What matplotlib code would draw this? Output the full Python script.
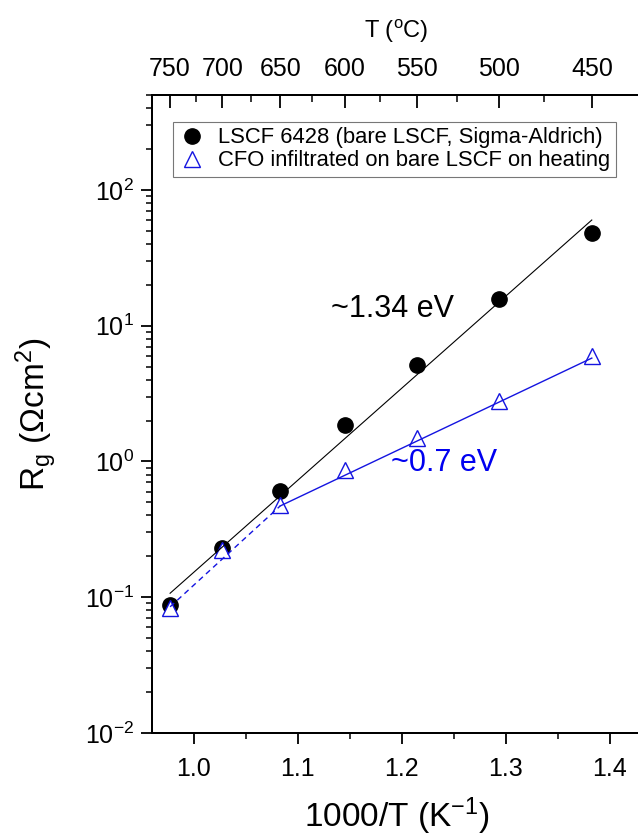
import matplotlib
matplotlib.use("Agg")
import matplotlib.pyplot as plt
import numpy as np
from matplotlib.ticker import MultipleLocator, LogLocator, LogFormatterMathtext, FixedLocator

plt.rcParams.update({
    "font.family": ["Liberation Sans", "DejaVu Sans"],
    "mathtext.fontset": "custom",
    "mathtext.rm": "Liberation Sans",
    "mathtext.it": "Liberation Sans:italic",
    "mathtext.bf": "Liberation Sans:bold",
    "axes.linewidth": 1.4,
})

# --- data ---
inv_T = [0.9774, 1.0276, 1.0832, 1.1453, 1.2148, 1.2934, 1.3827]      # 1000/T (K^-1)
rg_bare = [0.087, 0.231, 0.61, 1.85, 5.1, 15.7, 48.4]                    # LSCF 6428
rg_cfo = [0.083, 0.224, 0.48, 0.87, 1.50, 2.78, 5.97]                    # CFO infiltrated

fit_bare_x = [0.9774, 1.3827]
fit_bare_y = [0.107, 60.0]
fit_cfo_x = [1.0832, 1.3827]
fit_cfo_y = [0.47, 5.77]
dash_cfo_x = [0.9774, 1.0832]
dash_cfo_y = [0.085, 0.47]

top_T_major = [750, 700, 650, 600, 550, 500, 450]
top_T_minor = [725, 675, 625, 575, 525, 475]

label_bare = "LSCF 6428 (bare LSCF, Sigma-Aldrich)"
label_cfo = "CFO infiltrated on bare LSCF on heating"
blue = "#1414E0"

fig = plt.figure(figsize=(6.38, 8.36), dpi=100)
ax = fig.add_axes([152 / 638, 103 / 836, 489 / 638, 638 / 836])

# fit lines
ax.plot(fit_bare_x, fit_bare_y, color="black", lw=0.8, zorder=4)
ax.plot(fit_cfo_x, fit_cfo_y, color=blue, lw=1.0, zorder=4)
ax.plot(dash_cfo_x, dash_cfo_y, color=blue, lw=1.0, ls=(0, (4, 3)), zorder=4)

# points
h1, = ax.plot(inv_T, rg_bare, "o", color="black", ms=11, ls="none", zorder=2, label=label_bare)
h2, = ax.plot(inv_T, rg_cfo, "^", mfc="white", mec=blue, mew=1.0, ms=12, ls="none", zorder=3, label=label_cfo)

ax.set_yscale("log")
ax.set_ylim(0.01, 500)
ax.set_xlim(0.96, 1.43)

ax.xaxis.set_major_locator(MultipleLocator(0.1))
ax.xaxis.set_minor_locator(MultipleLocator(0.05))
ax.xaxis.set_major_formatter(matplotlib.ticker.FormatStrFormatter("%.1f"))
ax.yaxis.set_major_locator(LogLocator(base=10, numticks=10))
ax.yaxis.set_minor_locator(LogLocator(base=10, subs=np.arange(2, 10), numticks=20))
ax.yaxis.set_major_formatter(LogFormatterMathtext())
ax.yaxis.set_minor_formatter(matplotlib.ticker.NullFormatter())

ax.tick_params(which="major", direction="out", length=8, width=1.3, labelsize=18, pad=9,
               top=False, right=False)
ax.tick_params(axis="y", which="major", pad=5)
ax.tick_params(which="minor", direction="out", length=4, width=1.1, top=False, right=False)

ax.set_xlabel(r"1000/T (K$^{\mathregular{-1}}$)", fontsize=24)
ax.xaxis.set_label_coords(0.5, -0.098)
ax.set_ylabel(r"R$_{\mathregular{g}}$ ($\Omega$cm$^{\mathregular{2}}$)", fontsize=24)
ax.yaxis.set_label_coords(-0.19, 0.5)

# top temperature axis
ax2 = ax.twiny()
ax2.set_xlim(ax.get_xlim())
ax2.xaxis.set_major_locator(FixedLocator([1000 / (t + 273.15) for t in top_T_major]))
ax2.xaxis.set_minor_locator(FixedLocator([1000 / (t + 273.15) for t in top_T_minor]))
ax2.set_xticklabels([str(t) for t in top_T_major])
ax2.tick_params(which="major", direction="in", length=9, width=1.3, labelsize=18, pad=10)
ax2.tick_params(which="minor", direction="in", length=5, width=1.1)
ax2.set_xlabel(r"T ($^{\mathregular{o}}$C)", fontsize=17, labelpad=14)

# annotations
ax.text(1.191, 13.3, "~1.34 eV", fontsize=22, ha="center", va="center", color="black")
ax.text(1.241, 0.97, "~0.7 eV", fontsize=22, ha="center", va="center", color="#0000F0")

leg = ax.legend(handles=[h1, h2], loc="upper left", bbox_to_anchor=(0.043, 0.958),
                borderaxespad=0, fontsize=15.8, frameon=True, fancybox=False,
                handlelength=1.2, handletextpad=0.6, borderpad=0.25, labelspacing=0.1)
leg.get_frame().set_edgecolor("#555555")
leg.get_frame().set_linewidth(0.8)
for lh in leg.legend_handles:
    lh.set_markersize(11)

fig.savefig("out.png", dpi=100)
